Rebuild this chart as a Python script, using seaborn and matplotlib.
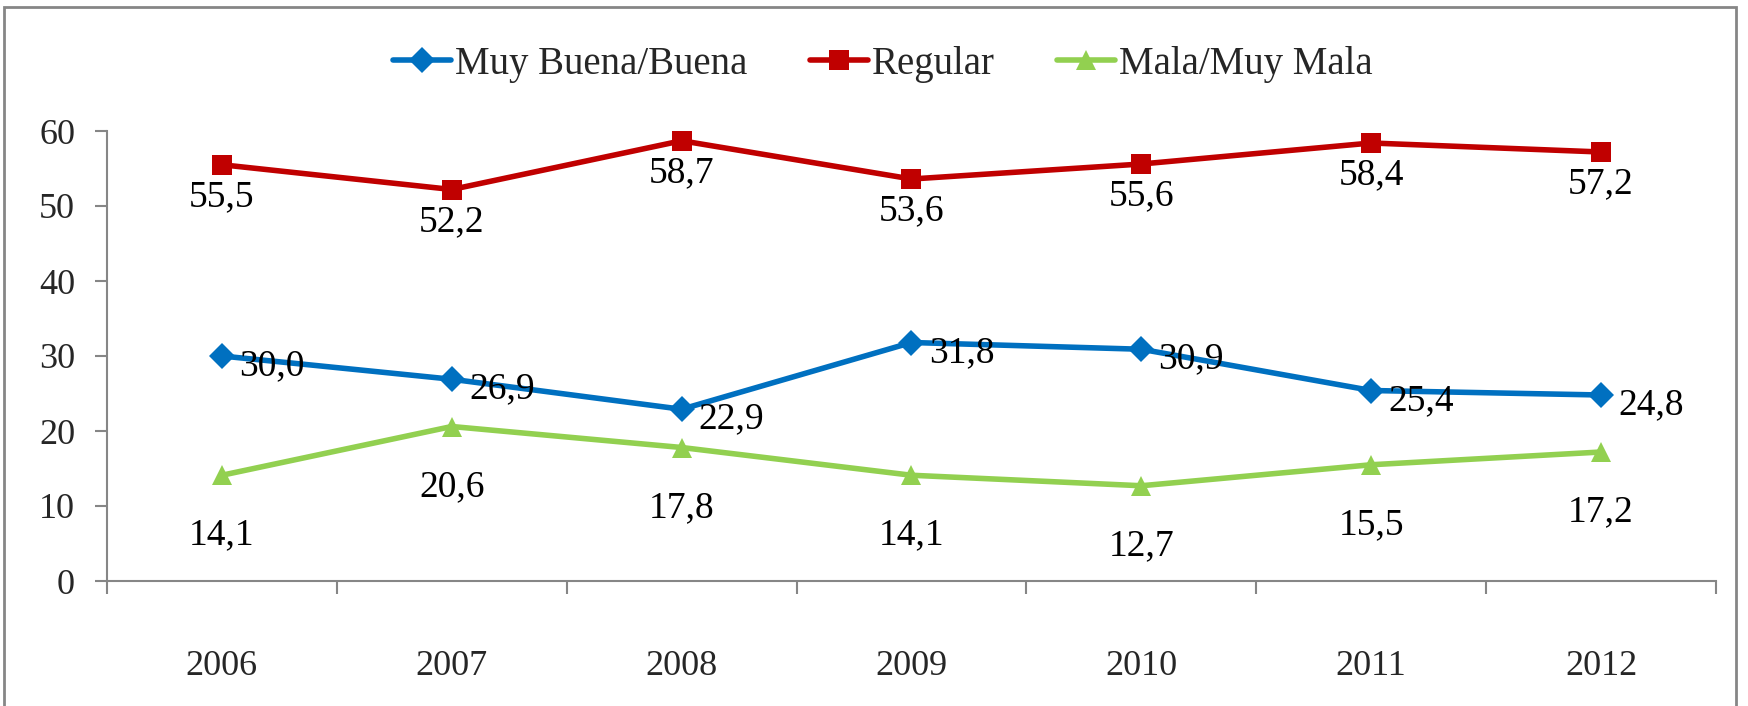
import matplotlib
matplotlib.use('Agg')
import matplotlib.pyplot as plt
import matplotlib.patches as patches
import seaborn as sns

years = ['2006', '2007', '2008', '2009', '2010', '2011', '2012']
buena = [30.0, 26.9, 22.9, 31.8, 30.9, 25.4, 24.8]
regular = [55.5, 52.2, 58.7, 53.6, 55.6, 58.4, 57.2]
mala = [14.1, 20.6, 17.8, 14.1, 12.7, 15.5, 17.2]

sns.set_style('white')
plt.rcParams['font.family'] = ['Liberation Serif', 'DejaVu Serif']

fig = plt.figure(figsize=(17.48, 7.06), dpi=100)
ax = fig.add_axes([107 / 1748, 125 / 706, 1609 / 1748, 450 / 706])

x = list(range(len(years)))

# series: name, values, colour, marker, marker size, label offset (pixels)
series = [
    ('Muy Buena/Buena', buena, '#0070C0', 'D', 13, (50, -10)),
    ('Regular', regular, '#C00000', 's', 14, (0, -32)),
    ('Mala/Muy Mala', mala, '#92D050', '^', 15, (0, -60)),
]

for name, vals, col, mk, ms, off in series:
    sns.lineplot(x=x, y=vals, ax=ax, color=col, linewidth=4, marker=mk,
                 markersize=ms, markeredgewidth=0, label=name)
    for xi, v in zip(x, vals):
        ax.annotate(f'{v:.1f}'.replace('.', ','), (xi, v), xytext=off,
                    textcoords='offset pixels', ha='center', va='center',
                    fontsize=27, color='black')

ax.set_xlim(-0.5, 6.5)
ax.set_ylim(0, 60)
ax.set_yticks(range(0, 61, 10))
ax.set_xticks(x)
ax.set_xticklabels(years)
ax.set_xticks([i - 0.5 for i in range(len(years) + 1)], minor=True)
ax.tick_params(axis='x', which='major', length=0, pad=50, labelsize=26)
ax.tick_params(axis='x', which='minor', length=9, width=1.5, color='#868686',
               direction='out', bottom=True)
ax.tick_params(axis='y', length=9, width=1.5, color='#868686', direction='out',
               left=True, pad=14, labelsize=26)
for s in ['top', 'right']:
    ax.spines[s].set_visible(False)
for s in ['left', 'bottom']:
    ax.spines[s].set_color('#868686')
    ax.spines[s].set_linewidth(1.5)

ax.legend(loc='upper center', bbox_to_anchor=(0.505, 0.985), bbox_transform=fig.transFigure,
          ncol=3, frameon=False, fontsize=28, handlelength=1.5, handletextpad=0.1,
          columnspacing=1.6)

fig.patches.append(patches.Rectangle((4 / 1748, -0.01), 1732 / 1748, 1.0,
                                     transform=fig.transFigure, fill=False,
                                     edgecolor='#868686', linewidth=2))

fig.savefig('out.png', dpi=100)
